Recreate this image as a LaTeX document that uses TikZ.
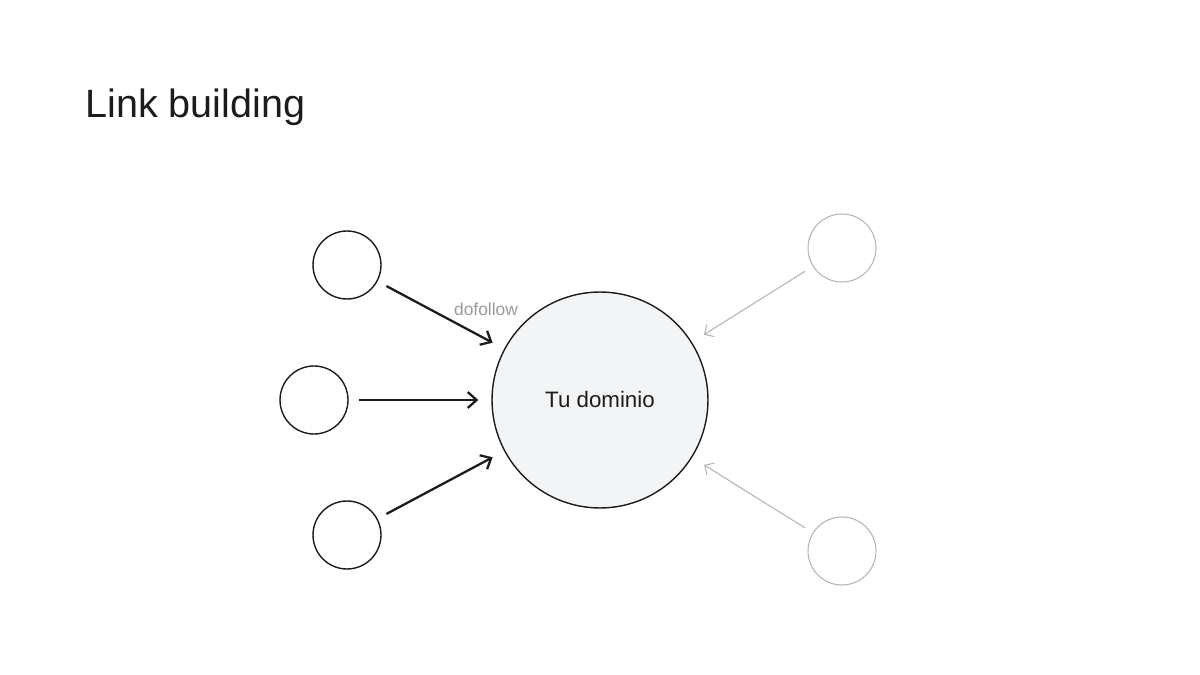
\documentclass[tikz,border=0pt]{standalone}
\usepackage{fontspec}
\setmainfont{Liberation Sans}
\usepackage{xcolor}
\usetikzlibrary{arrows.meta}
\definecolor{inkdark}{HTML}{1C1C1C}
\definecolor{lightgray}{HTML}{B4B4B4}
\definecolor{labelgray}{HTML}{9A9A9A}
\definecolor{domfill}{HTML}{F3F4F5}

\begin{document}
\begin{tikzpicture}[x=0.02cm, y=-0.02cm,
        site/.style = {circle, draw = inkdark, line width = 0.8pt, minimum size = 1.36cm, inner sep = 0},
        faded/.style = {circle, draw = lightgray, line width = 0.6pt, minimum size = 1.36cm, inner sep = 0},
        link/.style = {draw = inkdark, line width = 1.3pt, -{Straight Barb[length = 5pt, width = 9pt, line width = 1.3pt]}, shorten < = 0.2cm, shorten > = 0.26cm},
        weaklink/.style = {draw = lightgray, line width = 0.6pt, -{Straight Barb[length = 4pt, width = 8pt, line width = 0.6pt]}, shorten < = 0.18cm, shorten > = 0.28cm}]
            \useasboundingbox (0, 0) rectangle (1200, 675);
            \node[anchor = base west, inner sep = 0, text = inkdark, font = \fontsize{22.5pt}{27pt}\selectfont] (title) at (85, 118) {Link building};
            \node[circle, fill = domfill, draw = inkdark, line width = 0.8pt, minimum size = 4.32cm, inner sep = 0, text = inkdark, font = \fontsize{12.7pt}{15pt}\selectfont] (dom) at (600, 400) {Tu dominio};
            \node[site] (srcA) at (347, 265) {};
            \node[site] (srcB) at (314, 400) {};
            \node[site] (srcC) at (347, 535) {};
            \node[faded] (extA) at (842, 248) {};
            \node[faded] (extB) at (842, 551) {};
            \draw[link] (srcA) -- (dom);
            \draw[link] (srcB) -- (dom);
            \draw[link] (srcC) -- (dom);
            \draw[weaklink] (extA) -- (dom);
            \draw[weaklink] (extB) -- (dom);
            \node[text = labelgray, font = \fontsize{9.9pt}{12pt}\selectfont] (dof) at (486, 309) {dofollow};
        \end{tikzpicture}
\end{document}
